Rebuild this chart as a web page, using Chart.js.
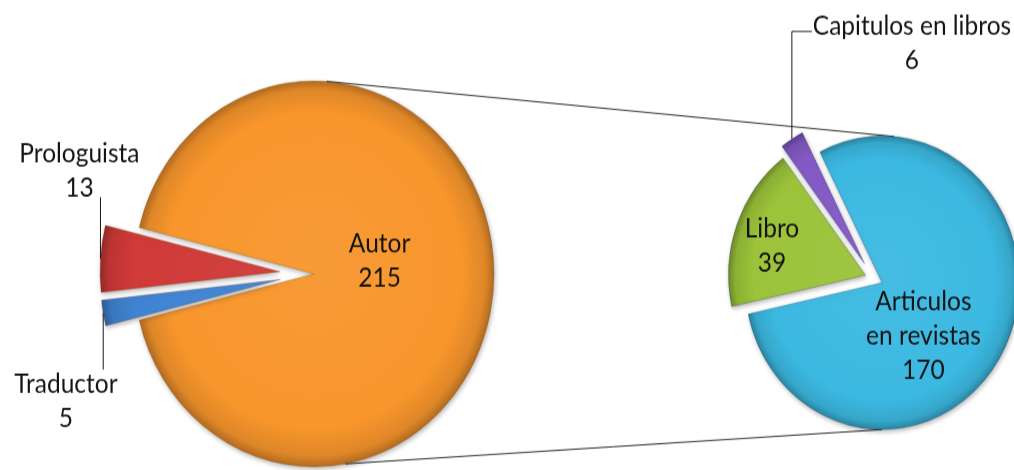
<!DOCTYPE html>
<html>
<head>
<meta charset="utf-8">
<script src="https://cdn.jsdelivr.net/npm/chart.js@4/dist/chart.umd.min.js"></script>
<style>
  html, body { margin: 0; padding: 0; background: #fff; overflow: hidden; }
  #wrap { position: relative; width: 1014px; height: 470px; transform: scaleY(1.072); transform-origin: 0 276px; }
  #wrap canvas { position: absolute; left: 0; top: 0; }
</style>
</head>
<body>
<div id="wrap">
  <canvas id="mainPie" width="1014" height="470"></canvas>
  <canvas id="subPie" width="1014" height="470"></canvas>
</div>
<script>
// data
const mainLabels = ['Autor', 'Traductor', 'Prologuista'];
const mainValues = [215, 5, 13];
const subLabels = ['Articulos\nen revistas', 'Libro', 'Capitulos en libros'];
const subValues = [170, 39, 6];

const mainColors = ['#F8962C', '#3F84D4', '#D03A37'];
const subColors = ['#3CB9E2', '#9CC33A', '#8359C4'];

// layout
const mainExplode = [4, 30, 30];   // px each slice is pulled out
const subExplode = [10, 8, 16];
const mainRadius = 180;
const subRadius = 137;
const subRotation = -27;
// the two small slices sit centred on 9 o'clock
const mainRotation = 270 + (mainValues[1] + mainValues[2]) / mainValues.reduce((a, b) => a + b, 0) * 180;

const mainLabelPlace = [
  { angle: 80, dist: 0.37 },
  { angle: 242, dist: 1.35, leader: 'down' },
  { angle: 295, dist: 1.23, leader: 'up' }
];
const subLabelPlace = [
  { angle: 140, dist: 0.47 },
  { angle: 286, dist: 0.71 },
  { angle: 13, dist: 1.54, leader: 'elbow' }
];
const seriesLineAngles = { main: [4, 170], sub: [5, 180] };

const FONT = '24.5px Lato, "Open Sans", sans-serif';
const LINE_H = 32;

function shade(hex, f) {
  const n = parseInt(hex.slice(1), 16);
  const t = f < 0 ? 0 : 255, p = Math.abs(f);
  const c = [n >> 16, (n >> 8) & 255, n & 255].map(v => Math.round(v + (t - v) * p));
  return `rgb(${c[0]},${c[1]},${c[2]})`;
}

// bevel-ish radial fill (slices are translated when drawn, so the gradient moves with them)
function makeFill(colors, radius) {
  return (c) => {
    const base = colors[c.dataIndex];
    const area = c.chart.chartArea;
    if (!area) return base;
    const cx = (area.left + area.right) / 2;
    const cy = (area.top + area.bottom) / 2;
    const g = c.chart.ctx.createRadialGradient(cx, cy - radius * 0.1, 0, cx, cy, radius);
    g.addColorStop(0, shade(base, 0.05));
    g.addColorStop(0.82, base);
    g.addColorStop(0.95, shade(base, -0.1));
    g.addColorStop(1, shade(base, -0.28));
    return g;
  };
}

// centre of an exploded arc
function arcCentre(el, ex) {
  const mid = (el.startAngle + el.endAngle) / 2;
  return { x: el.x + Math.cos(mid) * ex, y: el.y + Math.sin(mid) * ex, mid };
}
function polar(p, clockDeg, r) {
  const a = (clockDeg - 90) * Math.PI / 180;
  return { x: p.x + Math.cos(a) * r, y: p.y + Math.sin(a) * r };
}

// draw each arc pulled out along its bisector, without Chart.js' offset growth
function explodePlugin(explode) {
  return {
    id: 'explode',
    beforeDatasetsDraw(chart) {
      const ctx = chart.ctx;
      ctx.save();
      ctx.shadowColor = 'rgba(0,0,0,0.3)';
      ctx.shadowBlur = 5;
      ctx.shadowOffsetX = 1;
      ctx.shadowOffsetY = 2;
    },
    beforeDatasetDraw(chart, args) {
      const ctx = chart.ctx;
      args.meta.data.forEach((el, i) => {
        const mid = (el.startAngle + el.endAngle) / 2;
        ctx.save();
        ctx.translate(Math.cos(mid) * explode[i], Math.sin(mid) * explode[i]);
        el.draw(ctx, chart.chartArea);
        ctx.restore();
      });
      return false;
    },
    afterDatasetsDraw(chart) { chart.ctx.restore(); }
  };
}

function labelPlugin(place, explode) {
  return {
    id: 'sliceLabels',
    afterDraw(chart) {
      const ctx = chart.ctx;
      const ds = chart.data.datasets[0];
      ctx.save();
      ctx.font = FONT;
      ctx.fillStyle = '#141414';
      ctx.strokeStyle = '#1a1a1a';
      ctx.lineWidth = 1;
      ctx.textAlign = 'center';
      ctx.textBaseline = 'middle';
      chart.getDatasetMeta(0).data.forEach((el, i) => {
        const pl = place[i];
        const c = arcCentre(el, explode[i]);
        const p = polar(c, pl.angle, el.outerRadius * pl.dist);
        const lines = String(chart.data.labels[i]).split('\n').concat(String(ds.data[i]));
        const h = lines.length * LINE_H;
        const top = p.y - h / 2;
        lines.forEach((t, k) => ctx.fillText(t, p.x, top + LINE_H * (k + 0.5)));
        if (pl.leader) {
          const midDeg = c.mid * 180 / Math.PI + 90;
          const o = polar(c, midDeg, el.outerRadius);
          ctx.beginPath();
          ctx.moveTo(o.x, o.y);
          if (pl.leader === 'up') ctx.lineTo(o.x, top + h - 8);
          if (pl.leader === 'down') ctx.lineTo(o.x, top + 2);
          if (pl.leader === 'elbow') {
            const w = ctx.measureText(lines[0]).width;
            const y = top + LINE_H * 0.5 + 5;
            ctx.lineTo(o.x, y);
            ctx.lineTo(p.x - w / 2 - 1, y);
          }
          ctx.stroke();
        }
      });
      ctx.restore();
    }
  };
}

const seriesLines = {
  id: 'seriesLines',
  beforeDatasetsDraw(chart) {
    const left = mainChart.getDatasetMeta(0).data[0];
    const right = chart.getDatasetMeta(0).data[0];
    const lc = arcCentre(left, mainExplode[0]), rc = arcCentre(right, subExplode[0]);
    const ctx = chart.ctx;
    ctx.save();
    ctx.strokeStyle = '#222';
    ctx.lineWidth = 1;
    for (let k = 0; k < 2; k++) {
      const a = polar(lc, seriesLineAngles.main[k], left.outerRadius);
      const b = polar(rc, seriesLineAngles.sub[k], right.outerRadius);
      ctx.beginPath();
      ctx.moveTo(a.x, a.y);
      ctx.lineTo(b.x, b.y);
      ctx.stroke();
    }
    ctx.restore();
  }
};

const common = {
  responsive: false,
  animation: false,
  events: [],
  plugins: { legend: { display: false }, tooltip: { enabled: false } }
};

const mainChart = new Chart(document.getElementById('mainPie'), {
  type: 'pie',
  data: {
    labels: mainLabels,
    datasets: [{
      data: mainValues,
      backgroundColor: makeFill(mainColors, mainRadius),
      borderColor: 'rgba(120,60,0,0.25)',
      borderWidth: 1
    }]
  },
  options: Object.assign({}, common, {
    rotation: mainRotation,
    radius: mainRadius,
    layout: { padding: { left: 0, right: 394, top: 78, bottom: 0 } }
  }),
  plugins: [explodePlugin(mainExplode), labelPlugin(mainLabelPlace, mainExplode)]
});

const subChart = new Chart(document.getElementById('subPie'), {
  type: 'pie',
  data: {
    labels: subLabels,
    datasets: [{
      data: subValues,
      backgroundColor: makeFill(subColors, subRadius),
      borderColor: 'rgba(0,40,80,0.25)',
      borderWidth: 1
    }]
  },
  options: Object.assign({}, common, {
    rotation: subRotation,
    radius: subRadius,
    layout: { padding: { left: 732, right: 0, top: 86, bottom: 0 } }
  }),
  plugins: [seriesLines, explodePlugin(subExplode), labelPlugin(subLabelPlace, subExplode)]
});
</script>
</body>
</html>
